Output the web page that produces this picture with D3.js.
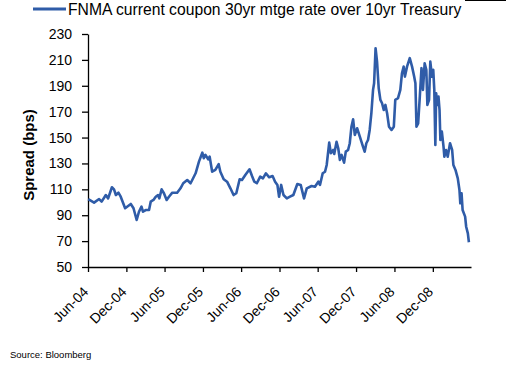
<!DOCTYPE html>
<html>
<head>
<meta charset="utf-8">
<script src="https://cdn.jsdelivr.net/npm/d3@7"></script>
<style>
  body { margin: 0; background: #fff; }
  svg { display: block; font-family: "Liberation Sans", Arial, sans-serif; }
</style>
</head>
<body>
<svg id="chart" width="506" height="371"></svg>
<script>
const dates = [
  "2004-06-02", "2004-06-30", "2004-07-24", "2004-08-05", "2004-08-25", "2004-09-05", "2004-09-23", "2004-10-03",
  "2004-10-12", "2004-10-24", "2004-11-04", "2004-11-25", "2004-12-22", "2005-01-04", "2005-01-19", "2005-01-30",
  "2005-02-11", "2005-02-18", "2005-03-03", "2005-03-19", "2005-03-27", "2005-04-09", "2005-04-20", "2005-05-01",
  "2005-05-07", "2005-05-18", "2005-05-29", "2005-06-11", "2005-06-22", "2005-07-08", "2005-07-31", "2005-08-16",
  "2005-08-29", "2005-09-17", "2005-10-03", "2005-10-11", "2005-10-27", "2005-11-12", "2005-11-28", "2005-12-05",
  "2005-12-13", "2005-12-26", "2006-01-02", "2006-01-14", "2006-01-29", "2006-02-14", "2006-02-22", "2006-03-10",
  "2006-03-26", "2006-04-11", "2006-04-26", "2006-05-09", "2006-05-25", "2006-06-05", "2006-06-21", "2006-07-11",
  "2006-07-23", "2006-08-03", "2006-08-15", "2006-08-31", "2006-09-13", "2006-09-27", "2006-10-13", "2006-10-29",
  "2006-11-10", "2006-11-21", "2006-11-29", "2006-12-09", "2006-12-20", "2007-01-05", "2007-01-20", "2007-02-05",
  "2007-02-24", "2007-03-12", "2007-03-28", "2007-04-10", "2007-05-03", "2007-05-19", "2007-06-04", "2007-06-12",
  "2007-06-25", "2007-07-06", "2007-07-14", "2007-07-26", "2007-08-03", "2007-08-14", "2007-08-19", "2007-08-30",
  "2007-09-07", "2007-09-15", "2007-09-23", "2007-10-05", "2007-10-13", "2007-10-24", "2007-11-01", "2007-11-09",
  "2007-11-17", "2007-11-25", "2007-12-06", "2007-12-19", "2008-01-03", "2008-01-11", "2008-01-19", "2008-01-27",
  "2008-02-04", "2008-02-12", "2008-02-20", "2008-02-25", "2008-03-03", "2008-03-10", "2008-03-18", "2008-03-26",
  "2008-04-03", "2008-04-11", "2008-04-19", "2008-04-27", "2008-05-06", "2008-05-18", "2008-05-29", "2008-06-05",
  "2008-06-18", "2008-06-29", "2008-07-07", "2008-07-15", "2008-07-21", "2008-07-31", "2008-08-13", "2008-08-24",
  "2008-09-03", "2008-09-09", "2008-09-14", "2008-09-22", "2008-09-30", "2008-10-08", "2008-10-15", "2008-10-23",
  "2008-10-31", "2008-11-05", "2008-11-13", "2008-11-19", "2008-11-27", "2008-12-03", "2008-12-08", "2008-12-13",
  "2008-12-17", "2008-12-22", "2008-12-28", "2009-01-02", "2009-01-06", "2009-01-13", "2009-01-21", "2009-01-25",
  "2009-02-02", "2009-02-10", "2009-02-21", "2009-03-03", "2009-03-09", "2009-03-19", "2009-03-30", "2009-04-07",
  "2009-04-11", "2009-04-17", "2009-04-22", "2009-05-04", "2009-05-09", "2009-05-17", "2009-05-22"
];

const spread = [
  102.5, 99.7, 102.5, 100.5, 105.6, 103, 111.6, 110,
  105.6, 107.4, 104.3, 95.4, 98.7, 95.4, 86.3, 92.7,
  96.6, 92.7, 94, 94, 100.5, 101.8, 104.3, 105.6,
  103, 110, 107, 101.8, 104.3, 107.4, 107.4, 110.8,
  114.7, 117.2, 114.7, 117.2, 122.4, 131.4, 138.3, 134,
  136.6, 133.2, 135.2, 123.6, 125, 129.4, 123.6, 117.8,
  115.9, 110.8, 105.6, 107, 117.8, 117.2, 121.1, 125.5,
  120.3, 115.9, 114.7, 119.8, 118.5, 122.4, 119.3, 120.3,
  115.9, 113.4, 104.3, 113.4, 105.6, 103, 104.3, 105.6,
  114.1, 113.4, 103, 110.8, 112.6, 112, 115.9, 113.4,
  122.4, 123.6, 128.8, 146.1, 137.9, 140.4, 137.3, 146.8,
  141.7, 132.7, 136.6, 130.6, 139.1, 140.4, 145.6, 158.4,
  164.1, 152, 157.2, 150.7, 143, 139.1, 145.6, 148.1,
  155.9, 168.8, 186.8, 191.9, 219, 208.7, 188.1, 179.1,
  176.5, 171.3, 175.2, 168.8, 158.4, 155.9, 158.4, 179.1,
  180.4, 186.8, 199.7, 204.8, 197.1, 204.8, 211.3, 204.8,
  197.1, 191.9, 158.4, 161, 181.7, 203.6, 186.8, 207.4,
  202.3, 175.2, 179.1, 208.7, 197.1, 202.3, 186.8, 144.3,
  184.2, 175.2, 181.7, 171.3, 148.1, 154.6, 143, 135.2,
  140.4, 135.2, 145.6, 140.4, 128.8, 125, 118.5, 109.5,
  99.2, 107, 94, 88.9, 81.1, 76, 69.1
];

const yTicks = [50, 70, 90, 110, 130, 150, 170, 190, 210, 230];
const xTickLabels = ["Jun-04", "Dec-04", "Jun-05", "Dec-05", "Jun-06", "Dec-06", "Jun-07", "Dec-07", "Jun-08", "Dec-08"];
const seriesName = "FNMA current coupon 30yr mtge rate over 10yr Treasury";

const parseDate = d3.timeParse("%Y-%m-%d");
const data = dates.map((d, i) => ({ date: parseDate(d), value: spread[i] }));

const margin = { top: 34, left: 88, right: 35, bottom: 104 };
const width = 506 - margin.left - margin.right;
const height = 371 - margin.top - margin.bottom;
const lineColor = "#2f5ca8";

const svg = d3.select("#chart");

// top border segment
svg.append("line")
  .attr("x1", 465).attr("x2", 506)
  .attr("y1", 0.5).attr("y2", 0.5)
  .attr("stroke", "#000");

const g = svg.append("g").attr("transform", `translate(${margin.left},${margin.top})`);

const x = d3.scaleTime()
  .domain([new Date(2004, 5, 1), new Date(2009, 5, 1)])
  .range([0, width]);

const y = d3.scaleLinear().domain([50, 230]).range([height, 0]);

const xTickDates = xTickLabels.map(s => d3.timeParse("%b-%y")(s));

const xAxis = d3.axisBottom(x)
  .tickValues(xTickDates)
  .tickFormat(d3.timeFormat("%b-%y"))
  .tickSize(5)
  .tickSizeOuter(0);

const yAxis = d3.axisLeft(y)
  .tickValues(yTicks)
  .tickSize(6)
  .tickSizeOuter(0)
  .tickPadding(10);

const gx = g.append("g").attr("transform", `translate(0,${height})`).call(xAxis);
gx.selectAll("text")
  .attr("font-size", 14)
  .attr("fill", "#000")
  .attr("text-anchor", "end")
  .attr("dx", 0).attr("dy", 0)
  .attr("transform", "translate(-5,20) rotate(-45)");

const gy = g.append("g").call(yAxis);
gy.selectAll("text").attr("font-size", 14).attr("fill", "#000");

[gx, gy].forEach(ax => {
  ax.select(".domain").attr("stroke", "#000").attr("stroke-width", 1.3);
  ax.selectAll(".tick line").attr("stroke", "#000").attr("stroke-width", 1.3);
});

const line = d3.line()
  .x(d => x(d.date))
  .y(d => y(d.value));

g.append("path")
  .datum(data)
  .attr("fill", "none")
  .attr("stroke", lineColor)
  .attr("stroke-width", 2.6)
  .attr("stroke-linejoin", "round")
  .attr("d", line);

// y label
svg.append("text")
  .attr("transform", `translate(34,155) rotate(-90)`)
  .attr("text-anchor", "middle")
  .attr("font-size", 15)
  .attr("font-weight", "bold")
  .text("Spread (bps)");

// legend
svg.append("line")
  .attr("x1", 33).attr("x2", 66)
  .attr("y1", 9).attr("y2", 9)
  .attr("stroke", lineColor)
  .attr("stroke-width", 3);

svg.append("text")
  .attr("x", 68).attr("y", 15)
  .attr("font-size", 15.7)
  .attr("fill", "#000")
  .text(seriesName);

svg.append("text")
  .attr("x", 10).attr("y", 358)
  .attr("font-size", 9.5)
  .text("Source: Bloomberg");
</script>
</body>
</html>
